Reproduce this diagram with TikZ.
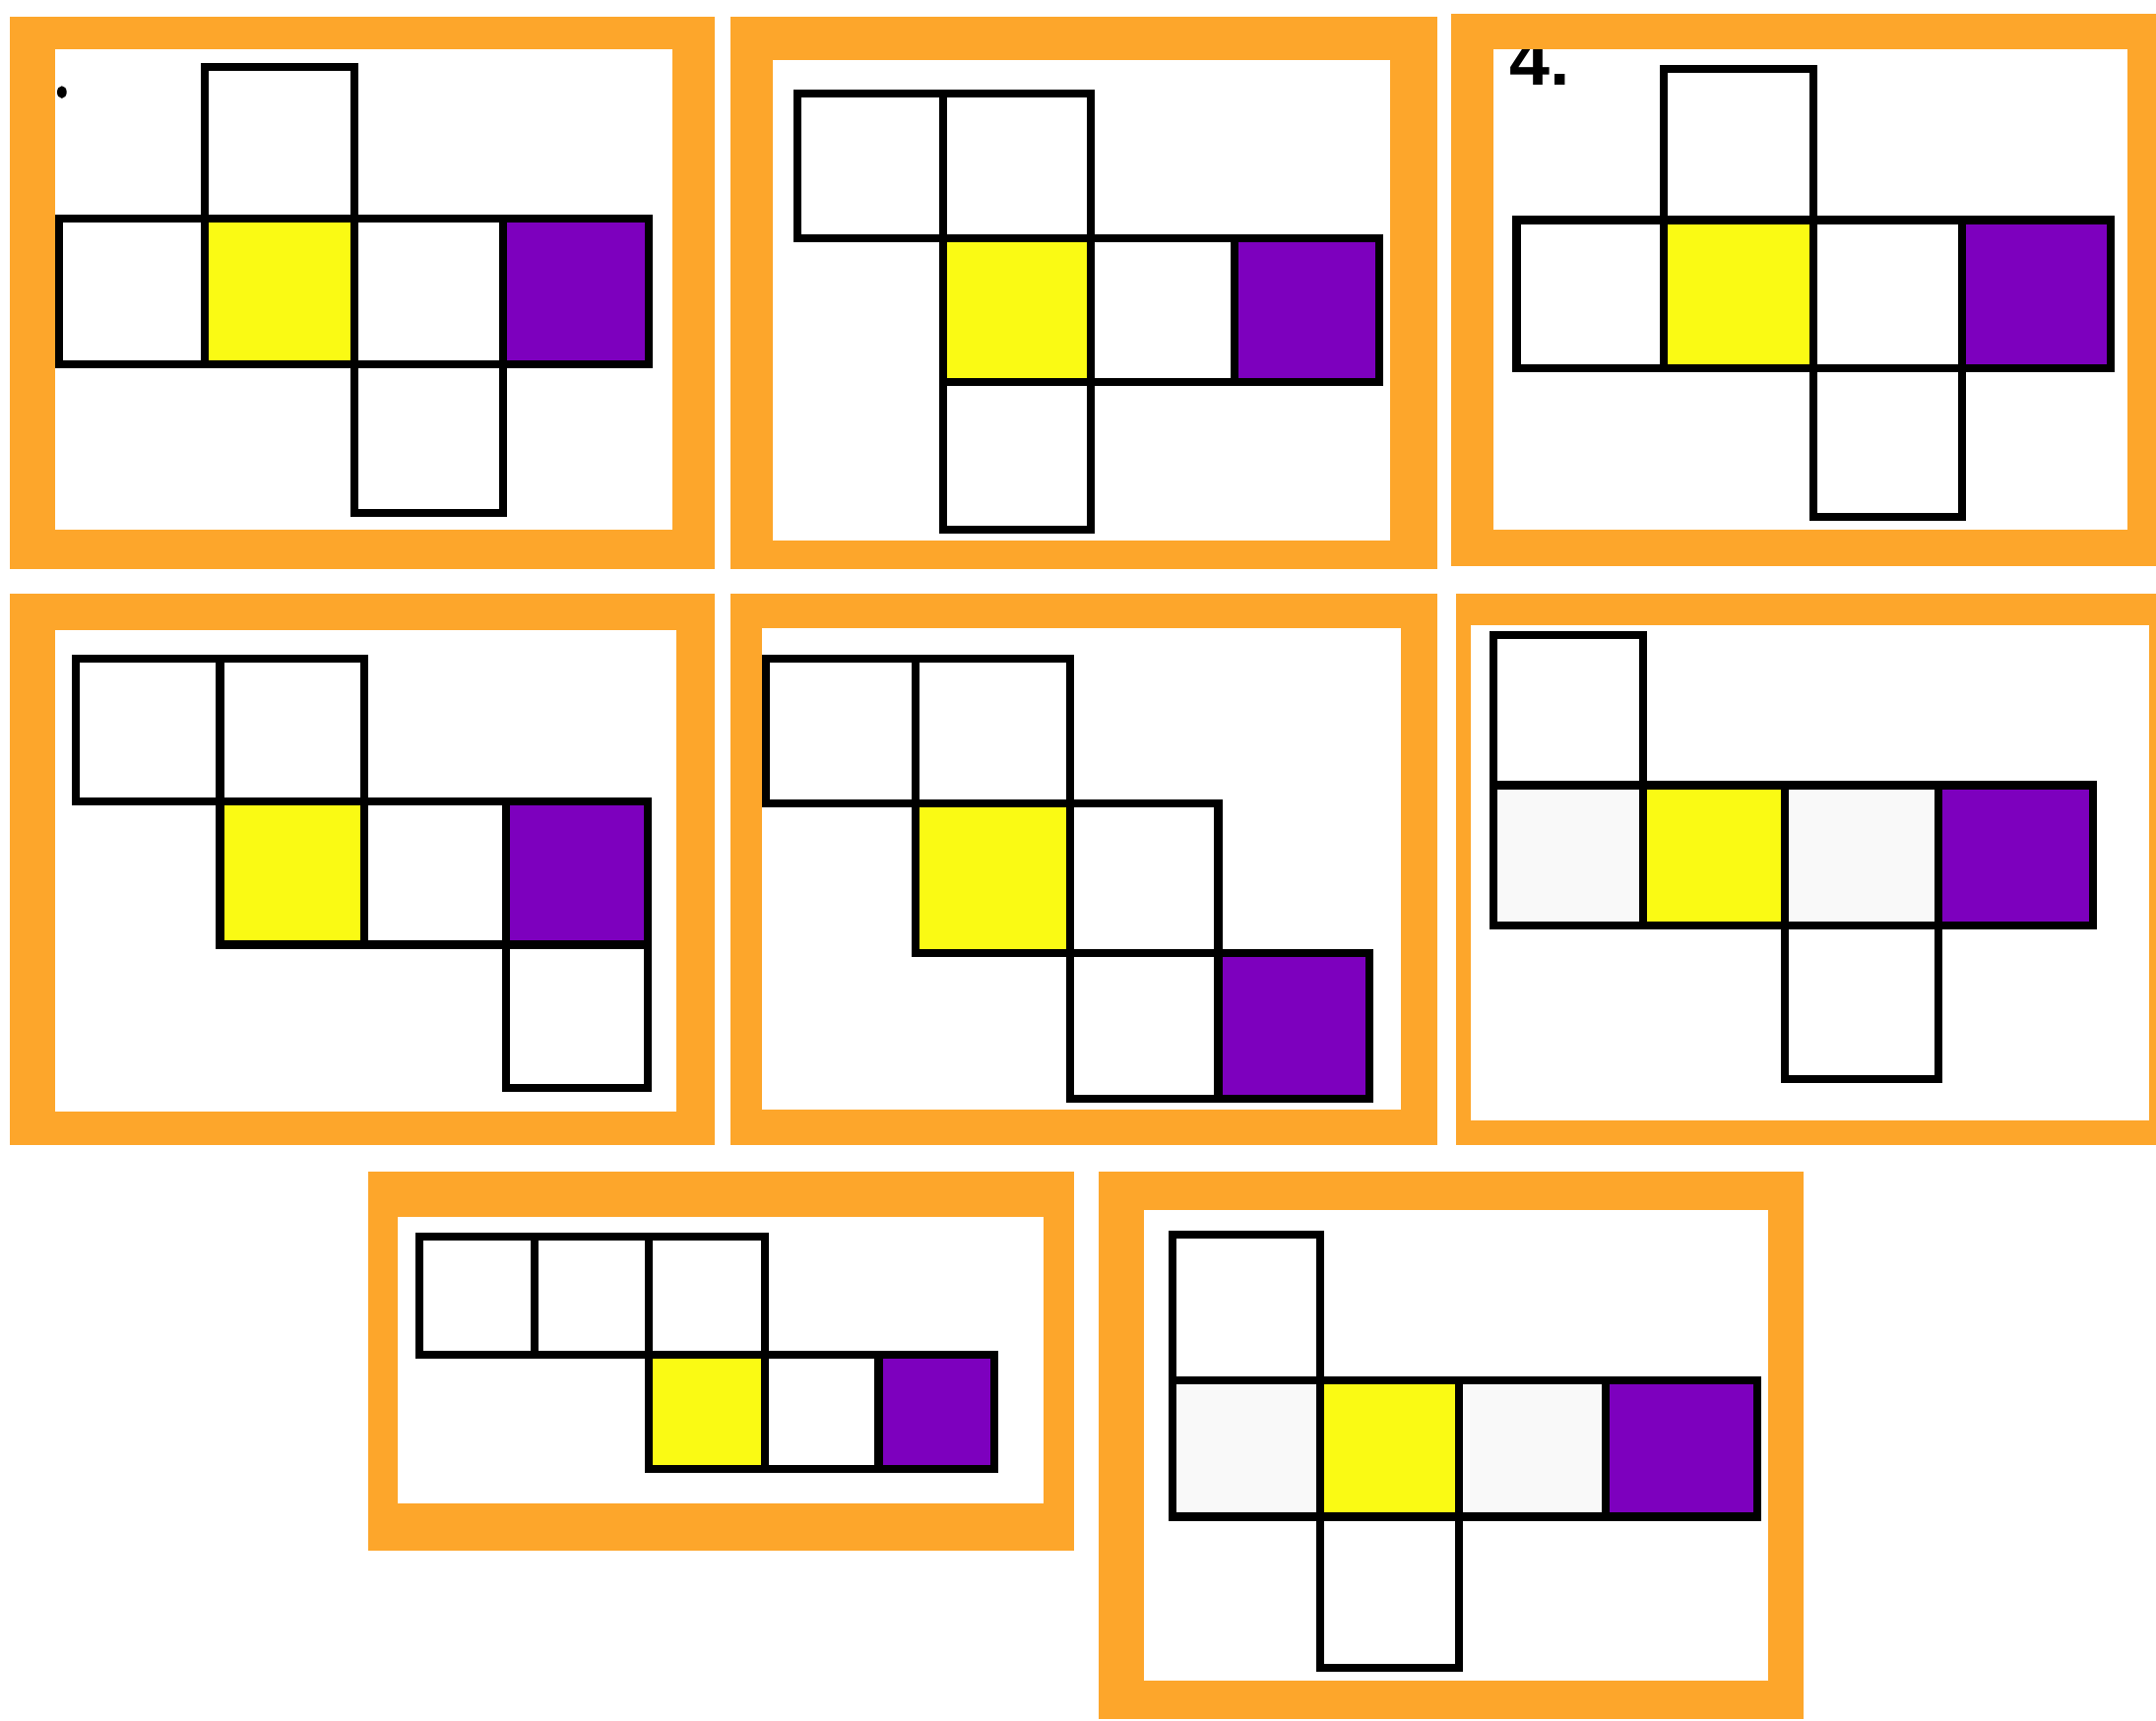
\documentclass[tikz,border=0pt]{standalone}
\usepackage{fontspec}
\setmainfont{Liberation Sans}
\definecolor{frameor}{RGB}{253,166,43}
\definecolor{netyel}{RGB}{250,250,20}
\definecolor{netpur}{RGB}{125,0,190}
\definecolor{netgry}{RGB}{249,249,249}
\begin{document}
\begin{tikzpicture}[x=0.01cm,y=-0.01cm,
  outerframe/.style={fill=frameor},
  innerpanel/.style={fill=white},
  cellbase/.style={draw=black,line width=0.058cm,line join=miter},
  cw/.style={cellbase,fill=white},
  cg/.style={cellbase,fill=netgry},
  cy/.style={cellbase,fill=netyel},
  cp/.style={cellbase,fill=netpur},
  numlabel/.style={font=\bfseries\fontsize{15}{15}\selectfont,inner sep=0pt,anchor=base west}]
\path[use as bounding box,fill=white] (0,0) rectangle (1568,1251);

% Panel 1
\path[outerframe] (7,12) rectangle (520,414);
\path[innerpanel] (40,36) rectangle (489,385);
\draw[cw] (149,49) rectangle (258,159);
\draw[cw] (43,159) rectangle (149,265);
\draw[cy] (149,159) rectangle (258,265);
\draw[cw] (258,159) rectangle (366,265);
\draw[cp] (366,159) rectangle (472,265);
\draw[cw] (258,265) rectangle (366,373);
\fill[black] (45,67) ellipse (3.5 and 4.5);

% Panel 2
\path[outerframe] (531,12) rectangle (1045,414);
\path[innerpanel] (562,44) rectangle (1011,393);
\draw[cw] (580,68) rectangle (686,173);
\draw[cw] (686,68) rectangle (793,173);
\draw[cy] (686,173) rectangle (793,278);
\draw[cw] (793,173) rectangle (898,278);
\draw[cp] (898,173) rectangle (1003,278);
\draw[cw] (686,278) rectangle (793,385);

% Panel 3
\path[outerframe] (1055,10) rectangle (1568,412);
\path[innerpanel] (1086,36) rectangle (1547,385);
\begin{scope}
\clip (1086,36) rectangle (1547,385);
\node[numlabel] (lbl4) at (1097,62) {4.};
\end{scope}
\draw[cw] (1210,50) rectangle (1319,160);
\draw[cw] (1103,160) rectangle (1210,268);
\draw[cy] (1210,160) rectangle (1319,268);
\draw[cw] (1319,160) rectangle (1427,268);
\draw[cp] (1427,160) rectangle (1535,268);
\draw[cw] (1319,268) rectangle (1427,376);

% Panel 4
\path[outerframe] (7,432) rectangle (520,833);
\path[innerpanel] (40,458) rectangle (492,808);
\draw[cw] (55,479) rectangle (160,583);
\draw[cw] (160,479) rectangle (265,583);
\draw[cy] (160,583) rectangle (265,687);
\draw[cw] (265,583) rectangle (368,687);
\draw[cp] (368,583) rectangle (471,687);
\draw[cw] (368,687) rectangle (471,791);

% Panel 5
\path[outerframe] (531,432) rectangle (1045,833);
\path[innerpanel] (554,457) rectangle (1019,807);
\draw[cw] (557,479) rectangle (666,584);
\draw[cw] (666,479) rectangle (778,584);
\draw[cy] (666,584) rectangle (778,693);
\draw[cw] (778,584) rectangle (886,693);
\draw[cw] (778,693) rectangle (886,799);
\draw[cp] (886,693) rectangle (996,799);

% Panel 6
\path[outerframe] (1059,432) rectangle (1568,833);
\path[innerpanel] (1070,455) rectangle (1563,815);
\draw[cw] (1086,462) rectangle (1195,571);
\draw[cg] (1086,571) rectangle (1195,673);
\draw[cy] (1195,571) rectangle (1298,673);
\draw[cg] (1298,571) rectangle (1410,673);
\draw[cp] (1410,571) rectangle (1522,673);
\draw[cw] (1298,673) rectangle (1410,785);

% Panel 7
\path[outerframe] (268,852) rectangle (781,1128);
\path[innerpanel] (289,885) rectangle (759,1093);
\draw[cw] (305,899) rectangle (389,985);
\draw[cw] (389,899) rectangle (472,985);
\draw[cw] (472,899) rectangle (556,985);
\draw[cy] (472,985) rectangle (556,1068);
\draw[cw] (556,985) rectangle (639,1068);
\draw[cp] (639,985) rectangle (723,1068);

% Panel 8
\path[outerframe] (799,852) rectangle (1312,1250);
\path[innerpanel] (832,880) rectangle (1286,1222);
\draw[cw] (853,898) rectangle (960,1004);
\draw[cg] (853,1004) rectangle (960,1103);
\draw[cy] (960,1004) rectangle (1061,1103);
\draw[cg] (1061,1004) rectangle (1168,1103);
\draw[cp] (1168,1004) rectangle (1278,1103);
\draw[cw] (960,1103) rectangle (1061,1213);
\end{tikzpicture}
\end{document}
